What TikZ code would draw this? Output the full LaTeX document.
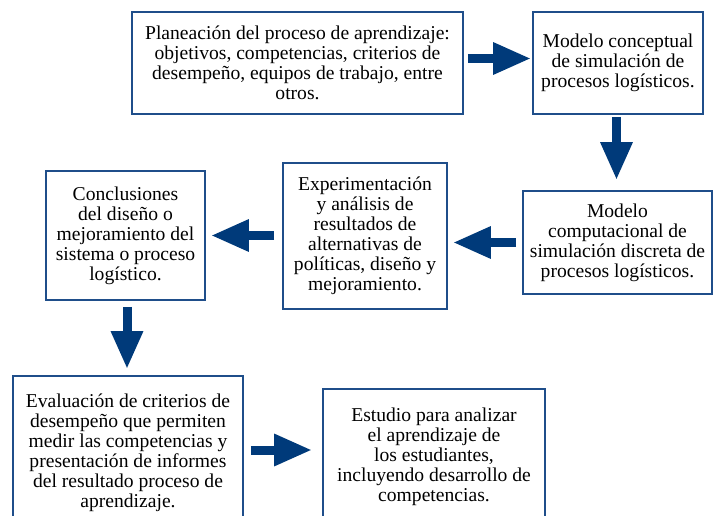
\documentclass[tikz,border=0pt]{standalone}
\usepackage{fontspec}
\setmainfont{Liberation Serif}
\usetikzlibrary{arrows.meta}
\definecolor{borde}{RGB}{31,78,138}
\definecolor{flecha}{RGB}{0,58,122}

\begin{document}
\begin{tikzpicture}[x=1pt,y=-1pt,
  caja/.style={draw=borde,line width=1.8pt,fill=white,align=center,inner sep=0pt,
    font=\fontsize{19.6}{20}\selectfont},
  flujo/.style={draw=flecha,line width=9pt,-{Triangle[length=38pt,width=30pt]}}]
\useasboundingbox (0,0) rectangle (718,516);
\clip (0,0) rectangle (718,516);
\node[caja,minimum width=331pt,minimum height=102pt] (p1) at (297.5,63) {Planeación del proceso de aprendizaje:\\ objetivos, competencias, criterios de\\ desempeño, equipos de trabajo, entre\\ otros.};
\node[caja,minimum width=170pt,minimum height=102pt] (p2) at (618,63) {Modelo conceptual\\ de simulación de\\ procesos logísticos.};
\node[caja,minimum width=189pt,minimum height=103pt] (p3) at (617.5,242.5) {Modelo\\ computacional de\\ simulación discreta de\\ procesos logísticos.};
\node[caja,minimum width=164pt,minimum height=146pt] (p4) at (365,236) {Experimentación\\ y análisis de\\ resultados de\\ alternativas de\\ políticas, diseño y\\ mejoramiento.};
\node[caja,minimum width=159pt,minimum height=129pt] (p5) at (125.5,235.5) {Conclusiones\\ del diseño o\\ mejoramiento del\\ sistema o proceso\\ logístico.};
\node[caja,minimum width=230pt,minimum height=154pt] (p6) at (128,453) {Evaluación de criterios de\\ desempeño que permiten\\ medir las competencias y\\ presentación de informes\\ del resultado proceso de\\ aprendizaje.};
\node[caja,minimum width=222pt,minimum height=136pt] (p7) at (434,457) {Estudio para analizar\\ el aprendizaje de\\ los estudiantes,\\ incluyendo desarrollo de\\ competencias.};
\draw[flujo,shorten <=4pt,shorten >=1pt] ([yshift=4.5pt]p1.east) -- ([yshift=4.5pt]p2.west);
\draw[flujo,shorten <=2pt,shorten >=10pt] ([xshift=-1.5pt]p2.south) -- ([xshift=-1pt]p3.north);
\draw[flujo,shorten <=6pt,shorten >=5pt] (p3.west) -- (p4.east |- p3.west);
\draw[flujo,shorten <=8pt,shorten >=5pt] (p4.west |- p5.east) -- (p5.east);
\draw[flujo,shorten <=6pt,shorten >=6pt] ([xshift=1.5pt]p5.south) -- ([xshift=-1pt]p6.north);
\draw[flujo,shorten <=7pt,shorten >=10pt] ([yshift=3pt]p6.east) -- ([yshift=7pt]p7.west);
\end{tikzpicture}
\end{document}
